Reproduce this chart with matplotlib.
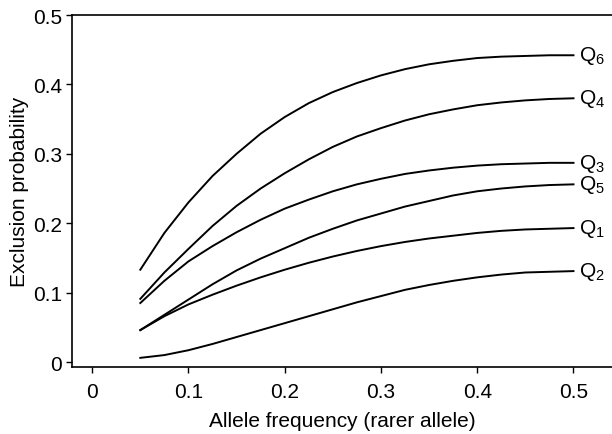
import numpy as np
import matplotlib
matplotlib.use("Agg")
import matplotlib.pyplot as plt

plt.rcParams["font.family"] = ["Liberation Sans", "DejaVu Sans"]
plt.rcParams["mathtext.default"] = "regular"

freq = [0.050, 0.075, 0.100, 0.125, 0.150, 0.175, 0.200, 0.225, 0.250, 0.275,
        0.300, 0.325, 0.350, 0.375, 0.400, 0.425, 0.450, 0.475, 0.500]

q6 = [0.133, 0.186, 0.230, 0.268, 0.300, 0.329, 0.353, 0.373, 0.389, 0.402,
      0.413, 0.422, 0.429, 0.434, 0.438, 0.440, 0.441, 0.442, 0.442]
q4 = [0.091, 0.129, 0.163, 0.196, 0.225, 0.250, 0.272, 0.292, 0.310, 0.325,
      0.337, 0.348, 0.357, 0.364, 0.370, 0.374, 0.377, 0.379, 0.380]
q3 = [0.085, 0.117, 0.145, 0.167, 0.187, 0.205, 0.221, 0.234, 0.246, 0.256,
      0.264, 0.271, 0.276, 0.280, 0.283, 0.285, 0.286, 0.287, 0.287]
q5 = [0.046, 0.068, 0.090, 0.112, 0.132, 0.149, 0.164, 0.179, 0.192, 0.204,
      0.214, 0.224, 0.232, 0.240, 0.246, 0.250, 0.253, 0.255, 0.256]
q1 = [0.046, 0.066, 0.083, 0.097, 0.110, 0.122, 0.133, 0.143, 0.152, 0.160,
      0.167, 0.173, 0.178, 0.182, 0.186, 0.189, 0.191, 0.192, 0.193]
q2 = [0.006, 0.010, 0.017, 0.026, 0.036, 0.046, 0.056, 0.066, 0.076, 0.086,
      0.095, 0.104, 0.111, 0.117, 0.122, 0.126, 0.129, 0.130, 0.131]

series = [("6", q6), ("4", q4), ("3", q3), ("5", q5), ("1", q1), ("2", q2)]
ticks = [0, 0.1, 0.2, 0.3, 0.4, 0.5]
tick_labels = ["0", "0.1", "0.2", "0.3", "0.4", "0.5"]

fig = plt.figure(figsize=(6.12, 4.35), dpi=100)
ax = fig.add_axes([0.1176, 0.154, 0.8824, 0.8092])

for sub, vals in series:
    ax.plot(freq, vals, color="black", linewidth=1.4, solid_joinstyle="round")
    ax.text(freq[-1] + 0.006, vals[-1], "Q$_{" + sub + "}$",
            fontsize=15, va="center", ha="left")

ax.set_xlim(-0.021, 0.54)
ax.set_ylim(-0.0072, 0.5)
ax.set_xticks(ticks)
ax.set_xticklabels(tick_labels)
ax.set_yticks(ticks)
ax.set_yticklabels(tick_labels)
ax.tick_params(direction="out", length=4, width=1, labelsize=15, pad=3)
ax.tick_params(axis="x", pad=7)

ax.spines["right"].set_visible(False)
for s in ["left", "bottom", "top"]:
    ax.spines[s].set_linewidth(1.2)

ax.set_xlabel("Allele frequency (rarer allele)", fontsize=15, labelpad=7)
ax.set_ylabel("Exclusion probability", fontsize=15, labelpad=3)

fig.savefig("out.png", dpi=100)
